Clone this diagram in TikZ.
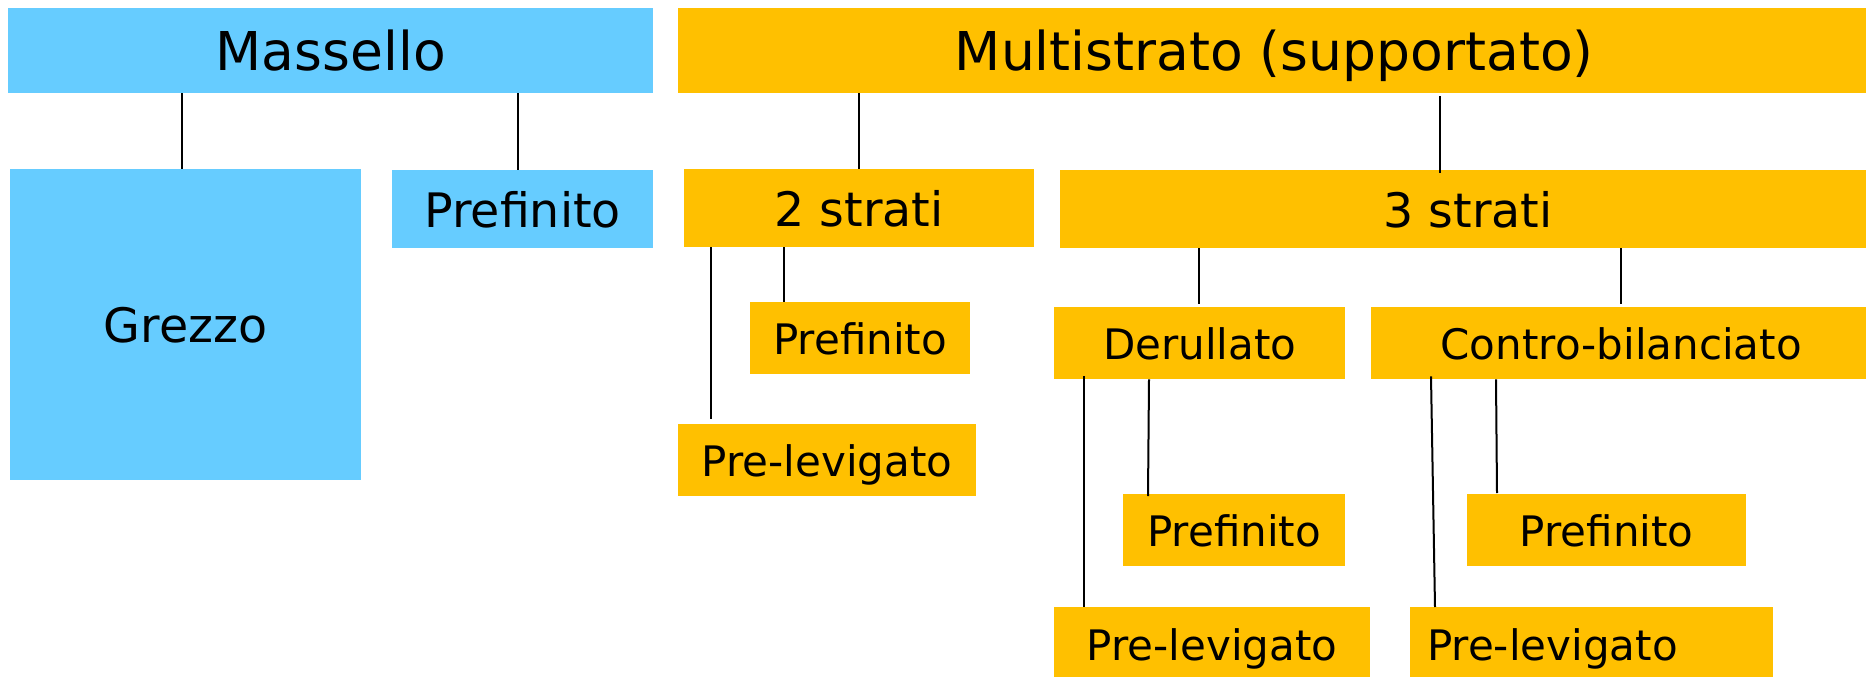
\documentclass[tikz,border=0pt]{standalone}
\usepackage{fontspec}
\setmainfont{DejaVu Sans}
\usetikzlibrary{calc}
\definecolor{mblue}{RGB}{102,204,255}
\definecolor{morange}{RGB}{255,192,0}
\begin{document}
\begin{tikzpicture}[x=1pt,y=-1pt,
  box/.style={rectangle, inner sep=0pt, anchor=north west, text depth=0pt},
  bluebox/.style={box, fill=mblue},
  orbox/.style={box, fill=morange},
  big/.style={font=\fontsize{53.5}{60}\selectfont, text height=39.5pt},
  mid/.style={font=\fontsize{47.5}{55}\selectfont, text height=36pt},
  small/.style={font=\fontsize{42}{50}\selectfont, text height=32pt},
  link/.style={draw=black, line width=2pt}]
\useasboundingbox (0,0) rectangle (1866,677);
\clip (0,0) rectangle (1866,677);
% level 1
\node[bluebox, big, minimum width=645pt, minimum height=85pt] (massello) at (8,8) {Massello};
\node[orbox, big, minimum width=1192pt, minimum height=85pt] (multi) at (678,8) {Multistrato (supportato)};
% level 2
\node[bluebox, mid, minimum width=351pt, minimum height=311pt] (grezzo) at (10,169) {Grezzo};
\node[bluebox, mid, minimum width=261pt, minimum height=78pt] (prefB) at (392,170) {Prefinito};
\node[orbox, mid, minimum width=350pt, minimum height=78pt] (s2) at (684,169) {2 strati};
\node[orbox, mid, minimum width=816pt, minimum height=78pt] (s3) at (1060,170) {3 strati};
% level 3
\node[orbox, small, minimum width=220pt, minimum height=72pt] (p2) at (750,302) {Prefinito};
\node[orbox, small, minimum width=298pt, minimum height=72pt] (pl2) at (678,424) {Pre-levigato};
\node[orbox, small, minimum width=291pt, minimum height=72pt] (der) at (1054,307) {Derullato};
\node[orbox, small, minimum width=500pt, minimum height=72pt] (cb) at (1371,307) {Contro-bilanciato};
% level 4
\node[orbox, small, minimum width=222pt, minimum height=72pt] (pd) at (1123,494) {Prefinito};
\node[orbox, small, minimum width=316pt, minimum height=74pt] (pld) at (1054,607) {Pre-levigato};
\node[orbox, small, minimum width=279pt, minimum height=72pt] (pc) at (1467,494) {Prefinito};
\node[orbox, small, inner xsep=17pt, text width=329pt, align=left, minimum height=74pt] (plc) at (1410,607) {Pre-levigato};
% connectors
\draw[link] (massello.south -| 182,0) -- (grezzo.north -| 182,0);
\draw[link] (massello.south -| 518,0) -- (prefB.north -| 518,0);
\draw[link] (multi.south -| 859,0) -- (s2.north -| 859,0);
\draw[link] ($(multi.south -| 1440,0)+(0,3)$) -- ($(s3.north -| 1440,0)+(0,3)$);
\draw[link] (s2.south -| 784,0) -- (p2.north -| 784,0);
\draw[link] (s2.south -| 710.7,0) -- ($(pl2.north -| 710.7,0)+(0,-5)$);
\draw[link] (s3.south -| 1199,0) -- ($(der.north -| 1199,0)+(0,-3)$);
\draw[link] (s3.south -| 1621,0) -- ($(cb.north -| 1621,0)+(0,-3)$);
\draw[link] ($(der.south -| 1084,0)+(0,-3)$) -- (pld.north -| 1084,0);
\draw[link] (der.south -| 1149,0) -- ($(pd.north -| 1148,0)+(0,2)$);
\draw[link] ($(cb.south -| 1431,0)+(0,-3)$) -- (plc.north -| 1435,0);
\draw[link] (cb.south -| 1496,0) -- ($(pc.north -| 1497,0)+(0,-1)$);
\end{tikzpicture}
\end{document}
